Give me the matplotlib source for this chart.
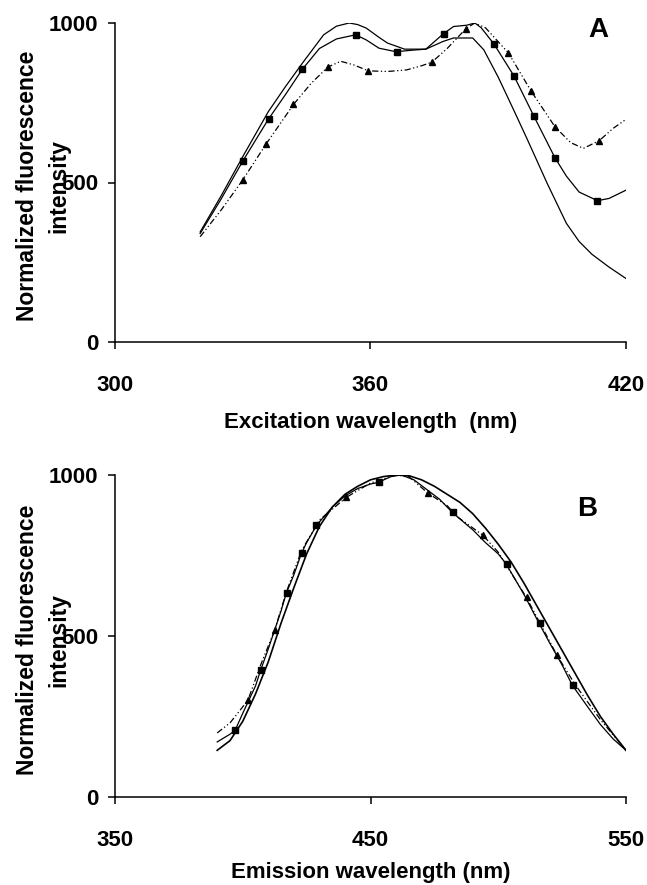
import matplotlib
matplotlib.use('Agg')
import matplotlib.pyplot as plt
import numpy as np

plt.rcParams['font.family'] = ['Liberation Sans', 'DejaVu Sans']
plt.rcParams['font.weight'] = 'bold'

# ---- panel A: excitation spectra ----
exA_wl1 = [320, 325, 330, 336, 340, 344, 349, 352, 355, 357, 359, 362, 364, 368, 373, 377,
           379.5, 384, 386.6, 390, 393.6, 397, 401.5, 406, 409, 412, 416, 420]
exA_v1 = [345, 460, 581, 722, 800, 874, 963, 990, 1000, 995, 984, 955, 937, 918, 918, 942,
          953, 953, 916, 830, 728, 630, 497, 372, 315, 275, 235, 199]

exA_wl2 = [320, 325, 330, 336, 340, 344, 348, 352, 356.5, 359, 362, 366, 370, 373, 377,
           379.5, 382.6, 384.5, 386, 389, 393.7, 398.4, 403.3, 406, 409, 413.3, 416, 420]
exA_v2 = [340, 450, 567, 698, 775, 855, 920, 950, 963, 947, 921, 910, 915, 918, 965,
          989, 993, 1000, 985, 934, 834, 707, 578, 520, 470, 443, 450, 476]

exA_wl3 = [320, 325, 330, 335.5, 342, 346, 350, 353, 356, 359.5, 364, 368.5, 372, 374.4, 378,
           382.4, 384.5, 387, 392.4, 397.7, 403.3, 407, 410, 413.7, 417, 420]
exA_v3 = [330, 415, 508, 621, 746, 810, 862, 880, 869, 850, 848, 853, 866, 877, 920,
          982, 1000, 985, 906, 787, 675, 625, 607, 631, 670, 698]

exA_sq_wl = [330.1, 336.2, 343.8, 356.5, 366.2, 377.3, 388.9, 393.7, 398.4, 403.3, 413.3]
exA_sq_v = [567, 698, 855, 963, 910, 965, 934, 834, 707, 578, 443]
exA_tri_wl = [330.1, 335.5, 341.9, 350, 359.5, 374.4, 382.4, 392.4, 397.7, 403.3, 413.7]
exA_tri_v = [508, 621, 746, 862, 850, 877, 982, 906, 787, 675, 631]

# ---- panel B: emission spectra ----
emB_wl1 = [390, 395, 400, 405, 410, 415, 420, 425, 430, 435, 440, 445, 450, 455, 460, 465,
           470, 475, 480, 485, 490, 495, 500, 505, 510, 515, 520, 525, 530, 535, 540, 545, 550]
emB_v1 = [145, 175, 235, 320, 420, 540, 650, 755, 840, 900, 940, 965, 985, 995, 1000, 998,
          985, 965, 940, 915, 880, 835, 785, 730, 665, 595, 525, 455, 385, 315, 250, 195, 145]

emB_wl2 = [390, 395, 397, 400, 405, 407, 410, 415, 417, 420, 423, 425, 429, 435, 440, 445,
           450, 453, 458, 462, 467, 472, 477, 482, 487, 490, 495, 500, 503, 510, 516, 520,
           525, 529, 535, 540, 545, 550]
emB_v2 = [171, 195, 207, 260, 345, 394, 460, 578, 632, 690, 757, 790, 845, 900, 935, 958,
          972, 977, 995, 1000, 985, 955, 925, 884, 850, 830, 790, 755, 725, 630, 539, 480,
          410, 347, 280, 225, 180, 145]

emB_wl3 = [390, 395, 402, 407, 412.5, 417, 423, 430, 440.6, 450, 460, 465, 472.6, 480, 484,
           494, 500, 511, 516, 523, 530, 540, 550]
emB_v3 = [199, 230, 300, 410, 518, 635, 765, 860, 931, 975, 1000, 995, 943, 905, 870,
          813, 760, 620, 545, 440, 350, 240, 145]

emB_sq_wl = [396.8, 407.3, 417.3, 423, 428.8, 453.3, 482.4, 503.3, 516.4, 529.4]
emB_sq_v = [207, 394, 632, 757, 845, 977, 884, 725, 539, 347]
emB_tri_wl = [402, 412.5, 440.6, 472.6, 494.1, 511.1, 522.9]
emB_tri_v = [300, 518, 931, 943, 813, 620, 440]

W, H = 647, 885
fig = plt.figure(figsize=(W / 100, H / 100), dpi=100)
axA = fig.add_axes([115 / W, 1 - 342 / H, 511 / W, 319 / H])
axB = fig.add_axes([115 / W, 1 - 797 / H, 511 / W, 322 / H])

dash = (0, (5, 2, 1, 2, 1, 2))
lw = 0.9
ms = 4.5

axA.plot(exA_wl1, exA_v1, color='black', lw=lw)
axA.plot(exA_wl2, exA_v2, color='black', lw=lw)
axA.plot(exA_wl3, exA_v3, color='black', lw=lw, linestyle=dash)
axA.plot(exA_sq_wl, exA_sq_v, 's', color='black', ms=ms)
axA.plot(exA_tri_wl, exA_tri_v, '^', color='black', ms=ms + 0.5)

axB.plot(emB_wl1, emB_v1, color='black', lw=lw + 0.3)
axB.plot(emB_wl2, emB_v2, color='black', lw=lw)
axB.plot(emB_wl3, emB_v3, color='black', lw=lw, linestyle=dash)
axB.plot(emB_sq_wl, emB_sq_v, 's', color='black', ms=ms)
axB.plot(emB_tri_wl, emB_tri_v, '^', color='black', ms=ms + 0.5)

fs = 16
for ax, xt, xlab, ly, lab_y in [(axA, [300, 360, 420], 'Excitation wavelength  (nm)', 0.49, 11),
                                  (axB, [350, 450, 550], 'Emission wavelength (nm)', 0.488, 8)]:
    ax.set_xlim(xt[0], xt[-1])
    ax.set_ylim(0, 1000)
    ax.set_xticks(xt)
    ax.set_yticks([0, 500, 1000])
    ax.spines['top'].set_visible(False)
    ax.spines['right'].set_visible(False)
    for s in ['left', 'bottom']:
        ax.spines[s].set_linewidth(1.1)
    ax.tick_params(axis='x', length=5, width=1.1, pad=19, labelsize=fs)
    ax.tick_params(axis='y', length=5, width=1.1, pad=7, labelsize=fs)
    for t in ax.get_xticklabels() + ax.get_yticklabels():
        t.set_fontweight('bold')
    ax.set_xlabel(xlab, fontsize=fs, fontweight='bold', labelpad=lab_y)
    ax.set_ylabel('Normalized fluorescence\nintensity', fontsize=16.5, fontweight='bold',
                  linespacing=1.45)
    ax.yaxis.set_label_coords(-0.088, ly)

axA.text(0.945, 0.978, 'A', transform=axA.transAxes, fontsize=20, fontweight='bold',
         ha='center', va='center')
axB.text(0.924, 0.894, 'B', transform=axB.transAxes, fontsize=20, fontweight='bold',
         ha='center', va='center')

fig.savefig('out.png', dpi=100)
